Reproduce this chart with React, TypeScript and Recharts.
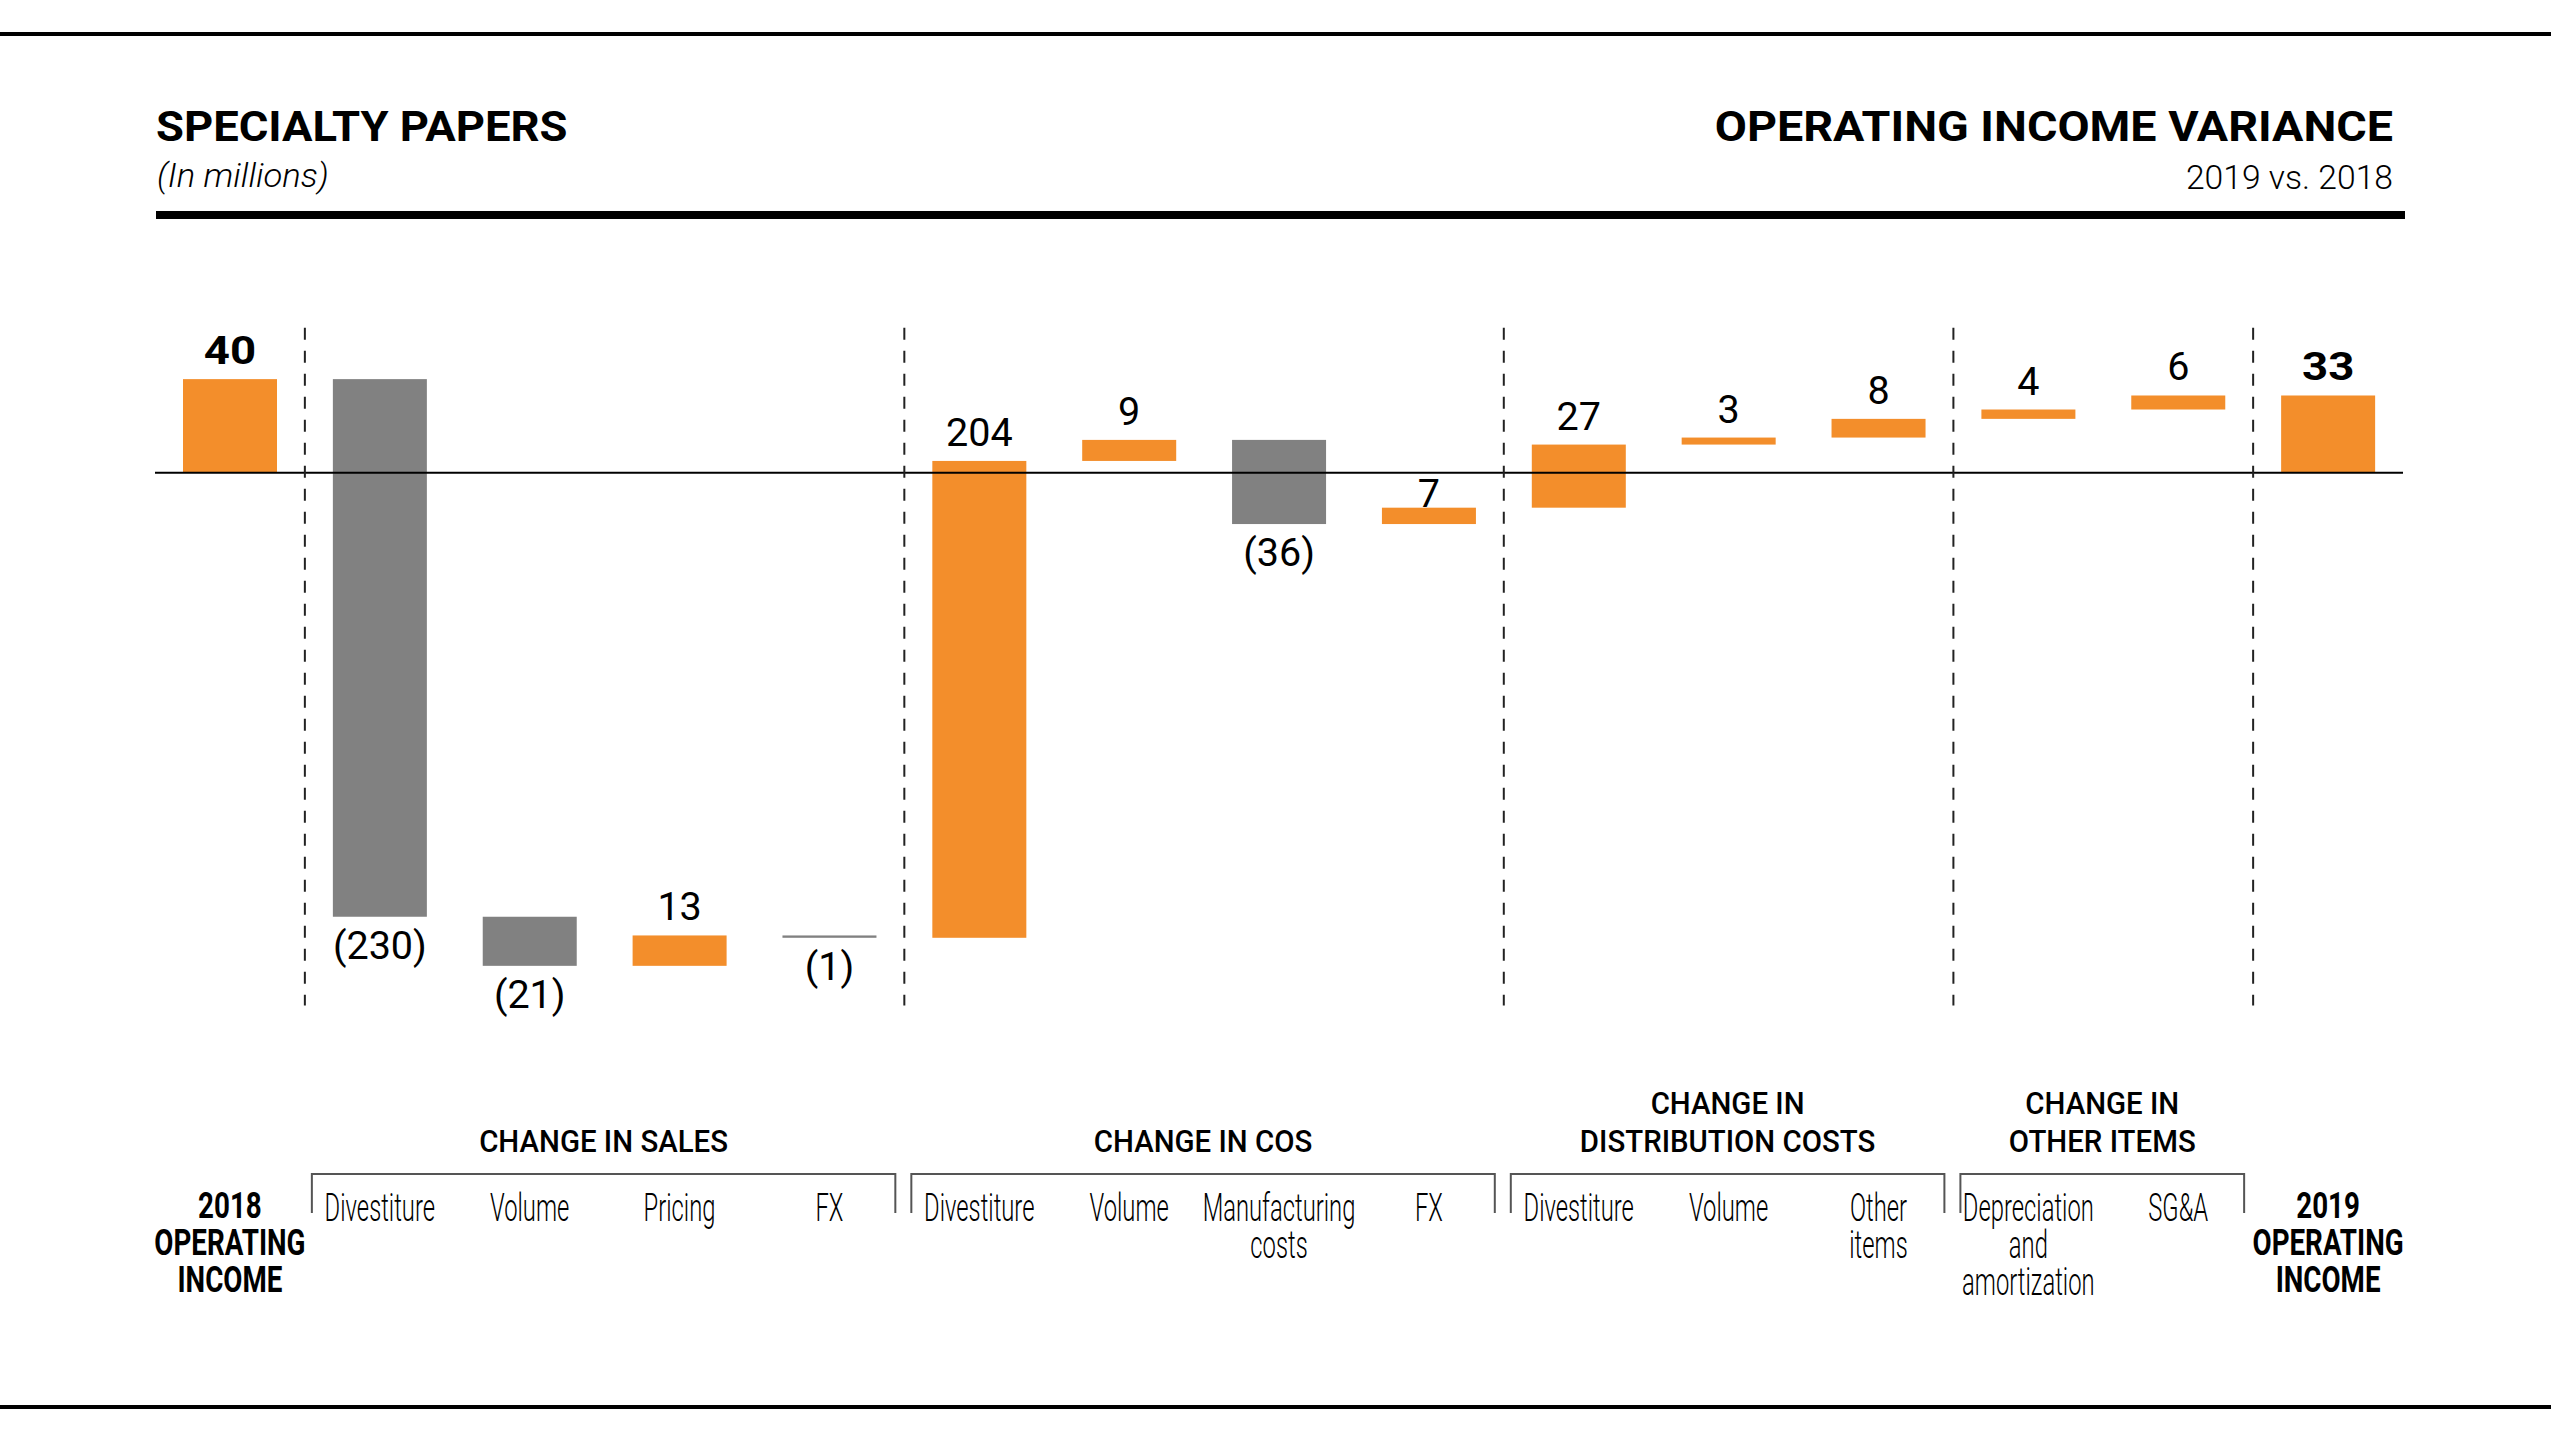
import React from 'react';
import { ComposedChart, Bar, XAxis, YAxis, ReferenceLine } from 'recharts';

// ---------- data ----------
const categoryLabels: string[][] = [
  ['2018', 'OPERATING', 'INCOME'],
  ['Divestiture'],
  ['Volume'],
  ['Pricing'],
  ['FX'],
  ['Divestiture'],
  ['Volume'],
  ['Manufacturing', 'costs'],
  ['FX'],
  ['Divestiture'],
  ['Volume'],
  ['Other', 'items'],
  ['Depreciation', 'and', 'amortization'],
  ['SG&A'],
  ['2019', 'OPERATING', 'INCOME'],
];
const changes = [40, -230, -21, 13, -1, 204, 9, -36, 7, 27, 3, 8, 4, 6, 33];
const isTotal = [true, false, false, false, false, false, false, false, false, false, false, false, false, false, true];
const groups = [
  { title: ['CHANGE IN SALES'], first: 1, last: 4 },
  { title: ['CHANGE IN COS'], first: 5, last: 8 },
  { title: ['CHANGE IN', 'DISTRIBUTION COSTS'], first: 9, last: 11 },
  { title: ['CHANGE IN', 'OTHER ITEMS'], first: 12, last: 13 },
];
const dividerBefore = [1, 5, 9, 12, 14];
const titleLeft = 'SPECIALTY PAPERS';
const subtitleLeft = '(In millions)';
const titleRight = 'OPERATING INCOME VARIANCE';
const subtitleRight = '2019 vs. 2018';

// ---------- derived table ----------
let running = 0;
const data = changes.map((v, i) => {
  let lo: number;
  let hi: number;
  if (isTotal[i]) {
    lo = Math.min(0, v);
    hi = Math.max(0, v);
    running = v;
  } else {
    const start = running;
    running += v;
    lo = Math.min(start, running);
    hi = Math.max(start, running);
  }
  return { key: 'c' + i, range: [lo, hi], value: v, total: isTotal[i], idx: i };
});

// ---------- layout ----------
const W = 2551;
const H = 1434;
const PLOT_LEFT = 155;
const PLOT_RIGHT = 2403;
const PLOT_TOP = 309;
const PLOT_BOTTOM = 1057;
const XAXIS_H = 30;
const BAND = (PLOT_RIGHT - PLOT_LEFT) / data.length;
const FONT = "Roboto, 'Noto Sans', sans-serif";
const ORANGE = '#F38E2B';
const GRAY = '#818181';

function SText(props: {
  x: number; y: number; size: number; weight?: number; sx?: number;
  anchor?: 'start' | 'middle' | 'end'; italic?: boolean; fill?: string; children: React.ReactNode;
}) {
  const { x, y, size, weight = 400, sx = 1, anchor = 'middle', italic = false, fill = '#000', children } = props;
  return (
    <text
      transform={`translate(${x},${y}) scale(${sx},1)`}
      x={0}
      y={0}
      textAnchor={anchor}
      fontSize={size}
      fontWeight={weight}
      fontStyle={italic ? 'italic' : 'normal'}
      fontFamily={FONT}
      fill={fill}
    >
      {children}
    </text>
  );
}

function fmt(v: number) {
  return v < 0 ? `(${-v})` : `${v}`;
}

function WaterfallShape(props: any) {
  const { x, y, width, height, payload } = props;
  if (x == null || y == null) return null;
  const top = Math.min(y, y + height);
  const bottom = Math.max(y, y + height);
  const [lo, hi] = payload.range;
  const ppu = hi - lo !== 0 ? (bottom - top) / (hi - lo) : 0;
  const zeroY = bottom + lo * ppu;
  const fill = payload.total || payload.value >= 0 ? ORANGE : GRAY;
  const cx = x + width / 2;
  let labelY: number;
  const digitH = 27;
  if (payload.value >= 0) {
    labelY = top - 15;
    if (top > zeroY && labelY - digitH < zeroY) labelY = top - 1;
  } else {
    labelY = bottom + 15 + digitH;
  }
  return (
    <g>
      <rect x={x} y={top} width={width} height={Math.max(bottom - top, 1)} fill={fill} />
      {payload.total ? (
        <SText x={cx} y={labelY} size={38} weight={700} sx={1.2}>{fmt(payload.value)}</SText>
      ) : (
        <SText x={cx} y={labelY} size={38} weight={400} sx={1.04}>{fmt(payload.value)}</SText>
      )}
    </g>
  );
}

function AxisTick(props: any) {
  const { x, payload } = props;
  const i = data.findIndex((d) => d.key === payload.value);
  if (i < 0) return null;
  const lines = categoryLabels[i];
  const total = isTotal[i];
  const els: React.ReactNode[] = [];
  lines.forEach((ln, j) => {
    if (total) {
      els.push(
        <SText key={'l' + j} x={x} y={1218 + j * 37} size={37} weight={700} sx={0.75}>{ln}</SText>,
      );
    } else {
      els.push(
        <SText key={'l' + j} x={x} y={1221 + j * 37} size={39} weight={300} sx={0.61}>{ln}</SText>,
      );
    }
  });
  const g = groups.find((gr) => gr.first === i);
  if (g) {
    const x0 = x - BAND / 2 + 7;
    const x1 = x - BAND / 2 + (g.last - g.first + 1) * BAND - 9;
    els.push(
      <path key="br" d={`M${x0},1213 V1174 H${x1} V1213`} fill="none" stroke="#555" strokeWidth={2} />,
    );
    const n = g.title.length;
    g.title.forEach((t, j) => {
      els.push(
        <SText key={'t' + j} x={(x0 + x1) / 2} y={1152 - (n - 1 - j) * 38} size={32} weight={500} sx={0.92}>{t}</SText>,
      );
    });
  }
  return <g>{els}</g>;
}

export default function App() {
  return (
    <div style={{ position: 'absolute', left: 0, top: 0, width: W, height: H, background: '#fff' }}>
      <svg width={W} height={H} style={{ position: 'absolute', left: 0, top: 0 }}>
        <rect x={0} y={32} width={W} height={4} fill="#000" />
        <SText x={156} y={141} size={42} weight={700} sx={1.08} anchor="start">{titleLeft}</SText>
        <SText x={157} y={187} size={33} weight={300} sx={1.05} anchor="start" italic>{subtitleLeft}</SText>
        <SText x={2393} y={141} size={42} weight={700} sx={1.11} anchor="end">{titleRight}</SText>
        <SText x={2393} y={189} size={33} weight={300} sx={1.02} anchor="end">{subtitleRight}</SText>
        <rect x={156} y={211} width={2249} height={8} fill="#000" />
        <rect x={0} y={1405} width={W} height={4} fill="#000" />
      </svg>
      <div style={{ position: 'absolute', left: 0, top: 0 }}>
        <ComposedChart
          width={W}
          height={H}
          data={data}
          margin={{ top: PLOT_TOP, right: W - PLOT_RIGHT, bottom: H - PLOT_BOTTOM - XAXIS_H, left: PLOT_LEFT }}
        >
          <XAxis
            dataKey="key"
            axisLine={false}
            tickLine={false}
            interval={0}
            height={XAXIS_H}
            tick={(p: any) => <AxisTick {...p} />}
          />
          <YAxis hide type="number" domain={[-250, 70]} allowDataOverflow />
          <Bar dataKey="range" barSize={94} isAnimationActive={false} shape={(p: any) => <WaterfallShape {...p} />} />
          <ReferenceLine y={0} stroke="#000" strokeWidth={2} />
          {dividerBefore.map((i) => (
            <ReferenceLine
              key={'d' + i}
              segment={[{ x: 'c' + i, y: 62 }, { x: 'c' + i, y: -228 }]}
              position="start"
              stroke="#222"
              strokeWidth={2}
              strokeDasharray="12 11"
              ifOverflow="visible"
            />
          ))}
        </ComposedChart>
      </div>
    </div>
  );
}
